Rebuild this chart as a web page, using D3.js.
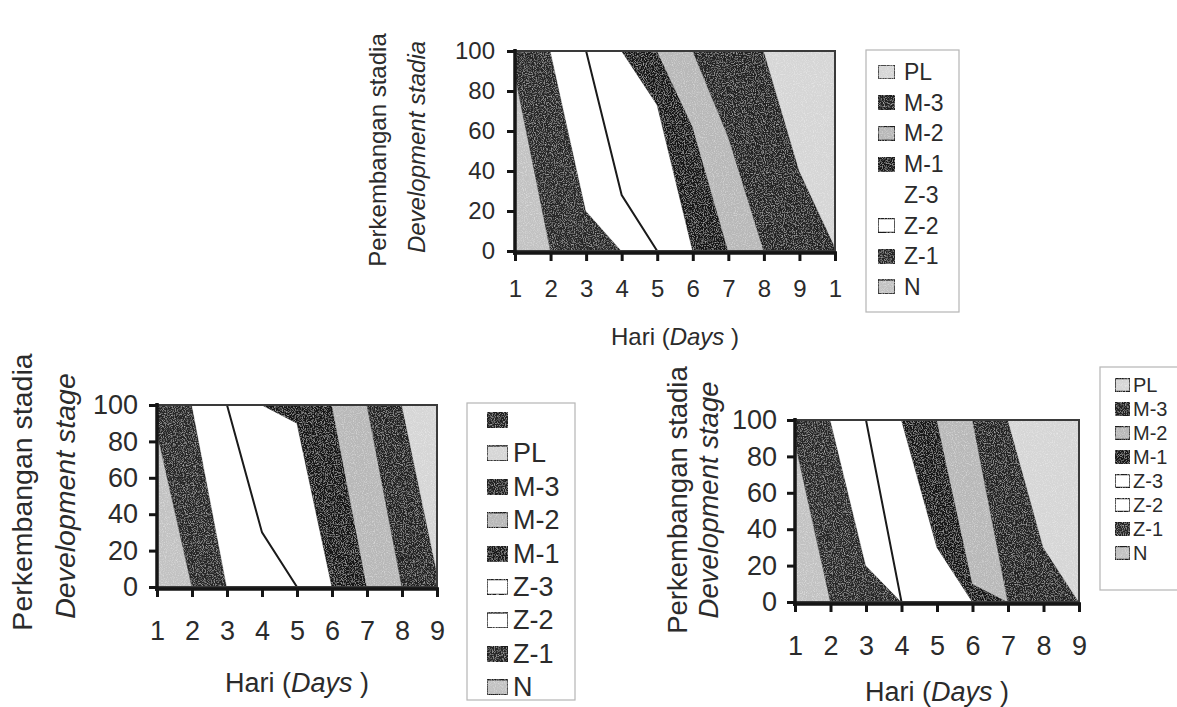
<!DOCTYPE html>
<html><head><meta charset="utf-8">
<script src="https://cdn.jsdelivr.net/npm/d3@7"></script>
<style>
body{margin:0;background:#fff;}
svg{display:block;}
text{font-family:"Liberation Sans",Arial,Helvetica,sans-serif;fill:#2b2b2b;}
</style>
</head><body>
<svg id="c" width="1177" height="707"></svg>
<script>
// ---------------- DATA ----------------
const stages = ["N","Z-1","Z-2","Z-3","M-1","M-2","M-3","PL"];
const yTickValues = [0,20,40,60,80,100];

// Chart A (top) - 10 days
const daysA = [1,2,3,4,5,6,7,8,9,10];
const xLabelsA = ["1","2","3","4","5","6","7","8","9","1"];
const nA  = [88,0,0,0,0,0,0,0,0,0];
const z1A = [12,100,20,0,0,0,0,0,0,0];
const z2A = [0,0,80,28,0,0,0,0,0,0];
const z3A = [0,0,0,72,73,0,0,0,0,0];
const m1A = [0,0,0,0,27,62,0,0,0,0];
const m2A = [0,0,0,0,0,38,57,0,0,0];
const m3A = [0,0,0,0,0,0,43,100,40,2];
const plA = [0,0,0,0,0,0,0,0,60,98];
const legendA = ["PL","M-3","M-2","M-1","Z-3","Z-2","Z-1","N"];

// Chart B (bottom left) - 9 days
const daysB = [1,2,3,4,5,6,7,8,9];
const xLabelsB = ["1","2","3","4","5","6","7","8","9"];
const nB  = [85,0,0,0,0,0,0,0,0];
const z1B = [15,100,0,0,0,0,0,0,0];
const z2B = [0,0,100,30,0,0,0,0,0];
const z3B = [0,0,0,70,90,0,0,0,0];
const m1B = [0,0,0,0,10,100,0,0,0];
const m2B = [0,0,0,0,0,0,100,0,0];
const m3B = [0,0,0,0,0,0,0,100,8];
const plB = [0,0,0,0,0,0,0,0,92];
const legendB = ["","PL","M-3","M-2","M-1","Z-3","Z-2","Z-1","N"];

// Chart C (bottom right) - 9 days
const daysC = [1,2,3,4,5,6,7,8,9];
const xLabelsC = ["1","2","3","4","5","6","7","8","9"];
const nC  = [88,0,0,0,0,0,0,0,0];
const z1C = [12,100,20,0,0,0,0,0,0];
const z2C = [0,0,80,0,0,0,0,0,0];
const z3C = [0,0,0,100,30,0,0,0,0];
const m1C = [0,0,0,0,70,10,0,0,0];
const m2C = [0,0,0,0,0,90,0,0,0];
const m3C = [0,0,0,0,0,0,100,30,0];
const plC = [0,0,0,0,0,0,0,70,100];
const legendC = ["PL","M-3","M-2","M-1","Z-3","Z-2","Z-1","N"];

// ---------------- STYLE ----------------
const fills = {"N":"#c2c2c2","Z-1":"#262626","Z-2":"#ffffff","Z-3":"#ffffff",
  "M-1":"#151515","M-2":"#b8b8b8","M-3":"#202020","PL":"#d6d6d6","":"#222222"};

const svg = d3.select("#c");
const defs = svg.append("defs");
const filt = defs.append("filter").attr("id","grain")
  .attr("x",0).attr("y",0).attr("width","100%").attr("height","100%");
filt.append("feTurbulence").attr("type","fractalNoise").attr("baseFrequency",0.9)
  .attr("numOctaves",2).attr("seed",4).attr("result","noise");
filt.append("feColorMatrix").attr("in","noise").attr("type","matrix")
  .attr("values","0 0 0 0 1  0 0 0 0 1  0 0 0 0 1  1.0 0 0 0 -0.47").attr("result","speck");
filt.append("feComposite").attr("in","speck").attr("in2","SourceGraphic")
  .attr("operator","in").attr("result","sp");
const fm = filt.append("feMerge");
fm.append("feMergeNode").attr("in","SourceGraphic");
fm.append("feMergeNode").attr("in","sp");

function drawChart(cfg){
  const g = svg.append("g");
  const days = cfg.days;
  const x = d3.scaleLinear().domain([days[0], days[days.length-1]]).range([cfg.x0, cfg.x1]);
  const y = d3.scaleLinear().domain([0,100]).range([cfg.y0, cfg.y100]);
  const rows = days.map((d,i)=>{
    const r = {day:d};
    stages.forEach(s=>{ r[s] = cfg.series[s][i]; });
    return r;
  });
  const layers = d3.stack().keys(stages)(rows);
  const area = d3.area().x(d=>x(d.data.day)).y0(d=>y(d[0])).y1(d=>y(d[1]));
  const ag = g.append("g").attr("filter","url(#grain)");
  ag.selectAll("path.area").data(layers).join("path")
    .attr("class","area")
    .attr("d", area)
    .attr("fill", d=>fills[d.key])
    .attr("stroke", d=>fills[d.key])
    .attr("stroke-width", 0.6);
  // Z-2 border line
  const z2 = layers.find(l=>l.key==="Z-2");
  g.append("path").datum(z2)
    .attr("d", d3.line().x(d=>x(d.data.day)).y(d=>y(d[1])))
    .attr("fill","none").attr("stroke","#1a1a1a").attr("stroke-width",2);
  // frame
  g.append("rect").attr("x",cfg.x0).attr("y",cfg.y100)
    .attr("width",cfg.x1-cfg.x0).attr("height",cfg.y0-cfg.y100)
    .attr("fill","none").attr("stroke","#3a3a3a").attr("stroke-width",2);

  // y axis
  const ya = g.append("g").attr("transform",`translate(${cfg.x0},0)`)
    .call(d3.axisLeft(y).tickValues(yTickValues).tickSize(8).tickSizeOuter(0).tickPadding(cfg.yPad));
  ya.select(".domain").attr("stroke","#151515").attr("stroke-width",3.5)
    .attr("d",`M0,${cfg.y100-2}V${cfg.axisY+2}`);
  ya.selectAll(".tick line").attr("stroke","#151515").attr("stroke-width",3);
  ya.selectAll(".tick text").attr("font-size",cfg.fs).attr("fill","#2b2b2b")
    .attr("font-family","Liberation Sans, Arial, sans-serif");

  // x axis
  const xa = g.append("g").attr("transform",`translate(0,${cfg.axisY})`)
    .call(d3.axisBottom(x).tickValues(days).tickFormat((d,i)=>cfg.xLabels[i]).tickSize(8).tickSizeOuter(0));
  xa.select(".domain").attr("stroke","#151515").attr("stroke-width",3.5)
    .attr("d",`M${cfg.x0-2},0H${cfg.x1+2}`);
  xa.selectAll(".tick line").attr("stroke","#151515").attr("stroke-width",3);
  xa.selectAll(".tick text").attr("font-size",cfg.fs).attr("fill","#2b2b2b")
    .attr("font-family","Liberation Sans, Arial, sans-serif")
    .attr("y", cfg.xLabY - cfg.axisY).attr("dy","0.36em");

  // x title
  const xt = g.append("text").attr("x",cfg.xTitleX).attr("y",cfg.xTitleY)
    .attr("text-anchor","middle").attr("dominant-baseline","central")
    .attr("font-size",cfg.titleFs);
  xt.append("tspan").text("Hari (");
  xt.append("tspan").attr("font-style","italic").text("Days");
  xt.append("tspan").text(" )");

  // y titles
  g.append("text").attr("transform",`translate(${cfg.yT1x},${cfg.yT1y}) rotate(-90)`)
    .attr("text-anchor","middle").attr("dominant-baseline","central")
    .attr("font-size",cfg.yTitleFs).text("Perkembangan stadia");
  g.append("text").attr("transform",`translate(${cfg.yT2x},${cfg.yT2y}) rotate(-90)`)
    .attr("text-anchor","middle").attr("dominant-baseline","central")
    .attr("font-size",cfg.yTitleFs).attr("font-style","italic").text(cfg.yT2);

  // legend
  const L = cfg.legend;
  g.append("rect").attr("x",L.x).attr("y",L.y).attr("width",L.w).attr("height",L.h)
    .attr("fill","#fff").attr("stroke","#b5b5b5").attr("stroke-width",1.2);
  cfg.legendItems.forEach((name,i)=>{
    const cy = L.first + i*L.step;
    if(!(cfg.noSwatch||[]).includes(name)){
      g.append("rect").attr("x",L.sx).attr("y",cy-L.sh/2).attr("width",L.sw).attr("height",L.sh)
        .attr("fill",fills[name]).attr("stroke","#1e1e1e").attr("stroke-width",1.5)
        .attr("filter","url(#grain)");
    }
    g.append("text").attr("x",L.tx).attr("y",cy).attr("dominant-baseline","central")
      .attr("font-size",L.fs).text(name);
  });
}

function seriesOf(n,z1,z2,z3,m1,m2,m3,pl){
  return {"N":n,"Z-1":z1,"Z-2":z2,"Z-3":z3,"M-1":m1,"M-2":m2,"M-3":m3,"PL":pl};
}

drawChart({
  days:daysA, xLabels:xLabelsA, series:seriesOf(nA,z1A,z2A,z3A,m1A,m2A,m3A,plA),
  x0:515, x1:835, y0:251, y100:51, axisY:253, yPad:12, fs:24, xLabY:288,
  titleFs:24, yTitleFs:24, xTitleX:675, xTitleY:336,
  yT1x:377, yT1y:150, yT2x:416, yT2y:147, yT2:"Development stadia",
  legendItems:legendA, noSwatch:["Z-3"],
  legend:{x:866,y:50,w:93,h:262,first:72,step:30.7,sx:878,sw:17,sh:14,tx:904,fs:23}
});

drawChart({
  days:daysB, xLabels:xLabelsB, series:seriesOf(nB,z1B,z2B,z3B,m1B,m2B,m3B,plB),
  x0:157, x1:437, y0:587, y100:405, axisY:589, yPad:11, fs:27, xLabY:630,
  titleFs:27, yTitleFs:28.5, xTitleX:297, xTitleY:683,
  yT1x:22, yT1y:492, yT2x:65, yT2y:496, yT2:"Development stage",
  legendItems:legendB, noSwatch:[],
  legend:{x:467,y:403,w:108,h:297,first:420,step:33.4,sx:487,sw:21,sh:15,tx:513,fs:27}
});

drawChart({
  days:daysC, xLabels:xLabelsC, series:seriesOf(nC,z1C,z2C,z3C,m1C,m2C,m3C,plC),
  x0:795, x1:1079, y0:602, y100:420, axisY:604, yPad:10, fs:27, xLabY:645,
  titleFs:27, yTitleFs:27.5, xTitleX:937, xTitleY:692,
  yT1x:677, yT1y:500, yT2x:708, yT2y:500, yT2:"Development stage",
  legendItems:legendC, noSwatch:[],
  legend:{x:1100,y:367,w:90,h:223,first:385,step:24,sx:1115,sw:15,sh:13,tx:1133,fs:20}
});
</script>
</body></html>
